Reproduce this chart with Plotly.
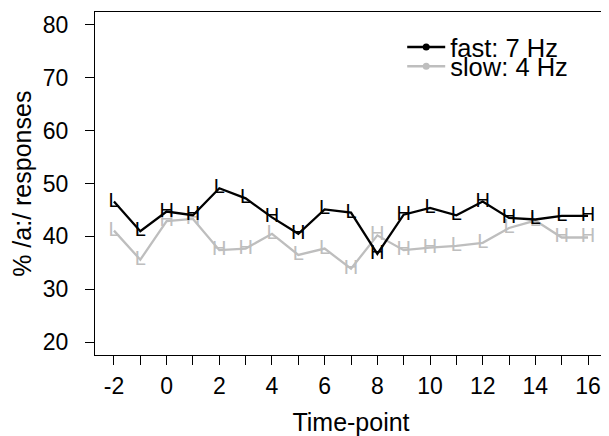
import plotly.graph_objects as go

time_points = list(range(-2, 17))
fast_values = [46.6, 41.0, 44.7, 44.0, 49.1, 47.2, 43.6, 40.5, 45.1, 44.5, 36.7,
               44.1, 45.4, 44.0, 46.6, 43.5, 43.2, 43.9, 43.9]
fast_labels = ["L", "L", "H", "H", "L", "L", "H", "H", "L", "L", "H",
               "H", "L", "L", "H", "H", "L", "L", "H"]
slow_values = [41.1, 35.6, 42.9, 43.3, 37.4, 37.7, 40.5, 36.5, 37.7, 33.9, 40.2,
               37.4, 37.9, 38.2, 38.8, 41.6, 43.0, 39.8, 39.8]
slow_labels = ["L", "L", "H", "H", "H", "H", "L", "L", "L", "H", "H",
               "H", "H", "L", "L", "L", "L", "H", "H"]
series_names = ["fast: 7 Hz", "slow: 4 Hz"]
x_tick_vals = list(range(-2, 17))
x_tick_text = [str(v) if v % 2 == 0 else "" for v in x_tick_vals]
y_tick_vals = [20, 30, 40, 50, 60, 70, 80]

BLACK = "#000000"
GREY = "#BEBEBE"
FONT = "Liberation Sans, Arial, sans-serif"

fig = go.Figure()

for vals, labels, color in [(slow_values, slow_labels, GREY), (fast_values, fast_labels, BLACK)]:
    fig.add_trace(go.Scatter(
        x=time_points, y=vals, mode="lines+text", text=labels,
        textposition="middle center",
        textfont=dict(family=FONT, size=20, color=color),
        line=dict(color=color, width=2.3),
        showlegend=False, hoverinfo="skip"))

# legend-only entries
fig.add_trace(go.Scatter(
    x=[None], y=[None], mode="lines+markers", name=series_names[0],
    line=dict(color=BLACK, width=2.5), marker=dict(color=BLACK, size=7),
    legend="legend"))
fig.add_trace(go.Scatter(
    x=[None], y=[None], mode="lines+markers", name=series_names[1],
    line=dict(color=GREY, width=2.5), marker=dict(color=GREY, size=7),
    legend="legend2"))

axis_common = dict(
    showline=True, linecolor="black", linewidth=1, mirror=True,
    ticks="outside", ticklen=9, tickwidth=1, tickcolor="black",
    showgrid=False, zeroline=False,
    tickfont=dict(family=FONT, size=23, color="black"),
)

legend_common = dict(xanchor="left", yanchor="top", itemwidth=38,
                     font=dict(family=FONT, size=25.5), bgcolor="rgba(0,0,0,0)",
                     borderwidth=0)

fig.update_layout(
    width=601, height=428,
    margin=dict(l=87, r=2, t=4, b=81),
    plot_bgcolor="white", paper_bgcolor="white",
    font=dict(family=FONT, color="black"),
    xaxis=dict(range=[-2.72, 16.72], tickmode="array", tickvals=x_tick_vals,
               ticktext=x_tick_text, ticklabelstandoff=1,
               title=dict(text="Time-point", font=dict(family=FONT, size=25), standoff=15),
               **axis_common),
    yaxis=dict(range=[17.6, 82.4], tickmode="array", tickvals=y_tick_vals,
               ticklabelstandoff=12, title=dict(text=""),
               **axis_common),
    annotations=[dict(text="% /a:/ responses", xref="paper", yref="paper",
                      x=-0.1439, y=0.5, xanchor="center", yanchor="middle",
                      textangle=-90, showarrow=False,
                      font=dict(family=FONT, size=25, color="black"))],
    legend=dict(x=0.600, y=0.965, **legend_common),
    legend2=dict(x=0.600, y=0.909, **legend_common),
)

fig.write_html("out.html")
